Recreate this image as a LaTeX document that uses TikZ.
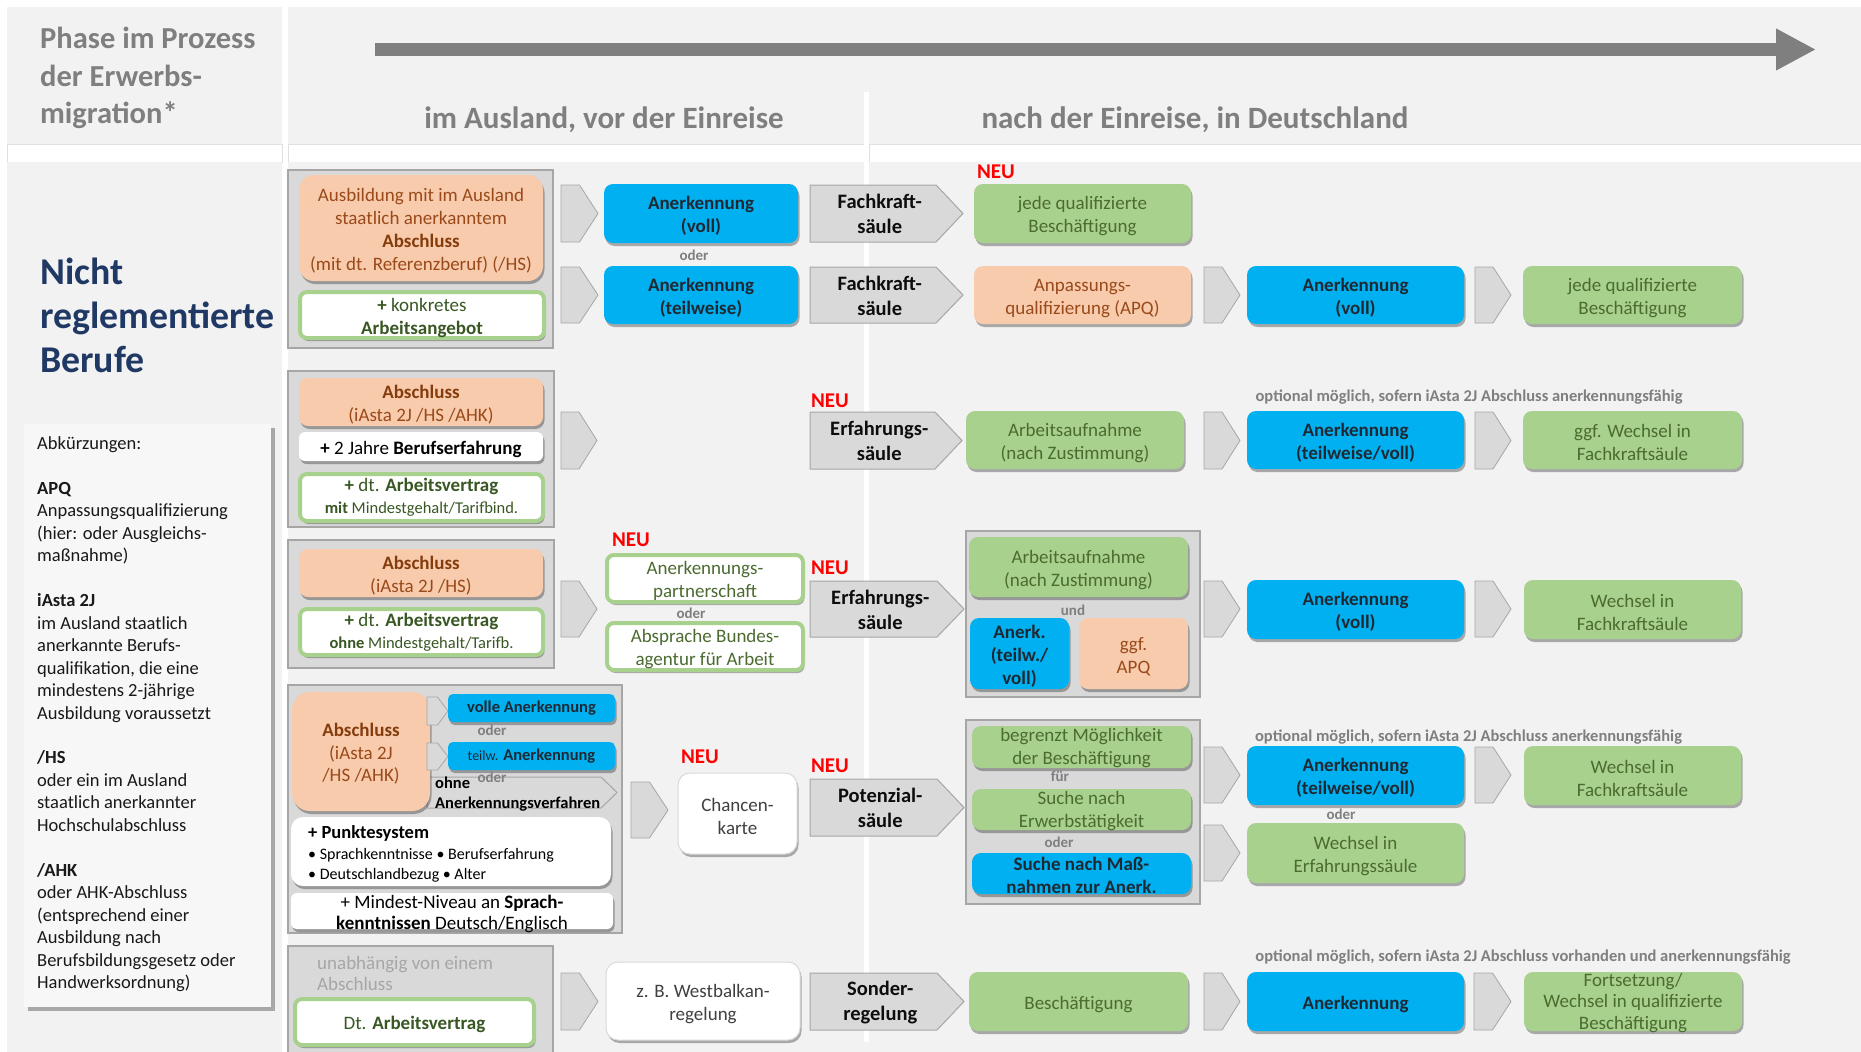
\documentclass[tikz,border=0pt]{standalone}
\usepackage{fontspec}
\setmainfont{Carlito}
\usetikzlibrary{shadows,arrows.meta}
\definecolor{cbg}{HTML}{F2F2F2}
\definecolor{cgrayfill}{HTML}{D9D9D9}
\definecolor{cgrayline}{HTML}{A6A6A6}
\definecolor{chdr}{HTML}{7F7F7F}
\definecolor{cblue}{HTML}{00B0F0}
\definecolor{cbluetxt}{HTML}{1F2933}
\definecolor{cgreen}{HTML}{A9D18E}
\definecolor{cgreentxt}{HTML}{4B6B30}
\definecolor{cgreendk}{HTML}{385723}
\definecolor{corange}{HTML}{F8CBAD}
\definecolor{corangetxt}{HTML}{9A4A1A}
\definecolor{corangedk}{HTML}{843C0C}
\definecolor{cnavy}{HTML}{1F3864}
\definecolor{cneu}{HTML}{FF0000}
\definecolor{cdark}{HTML}{404040}
\definecolor{clight}{HTML}{A6A6A6}
\newcommand\fsMain{\fontsize{19}{23}\selectfont}
\newcommand\fsSmall{\fontsize{16.5}{20}\selectfont}
\newcommand\fsPent{\fontsize{20.5}{25}\selectfont}
\newcommand\orb[1]{\textcolor{corangedk}{\textbf{#1}}}
\newcommand\tshiftcode{}
\newcommand\mkbox[7]{\node[#1,minimum width={#5-#3},minimum height={#6-#4}] (#2) at ({(#3+#5)/2},{(#4+#6)/2}) {\tshiftcode#7};}
\newcommand\mkboxT[9]{\node[#1,minimum width={#5-#3},minimum height={#6-#4}] (#2) at ({(#3+#5)/2},{(#4+#6)/2}) {};
  \node[#7] (#2-t) at ({(#3+#5)/2},{#8}) {#9};}
\newcommand\mkchev[5]{\path[chevshape] (#2,#3) -- ({(#2+#4)/2},#3) -- (#4,{(#3+#5)/2}) -- ({(#2+#4)/2},#5) -- (#2,#5) -- cycle;
  \coordinate (#1) at ({(#2+#4)/2},{(#3+#5)/2});}
\newcommand\mkpent[7]{\path[pentshape] (#2,#3) -- ({#4-#6},#3) -- (#4,{(#3+#5)/2}) -- ({#4-#6},#5) -- (#2,#5) -- cycle;
  \node[penttext] (#1) at ({(#2+#4-#6/2)/2},{(#3+#5)/2+0.8}) {#7};}
\tikzset{
  shd/.style={drop shadow={shadow xshift=1.5pt,shadow yshift=-3pt,opacity=.3,fill=black}},
  tshift/.code={\def\tshiftcode{\rule{0pt}{18.5pt}}},
  notshift/.code={\def\tshiftcode{}},
  boxbase/.style={inner sep=0pt,align=center,rounded corners=9pt,font=\fsMain},
  bluebox/.style={boxbase,fill=cblue,text=cbluetxt,font=\fsMain\bfseries,shd,tshift},
  bluesm/.style={bluebox,font=\fsSmall\bfseries,rounded corners=5pt,notshift},
  orangebox/.style={boxbase,fill=corange,text=corangetxt,shd,tshift},
  greenbox/.style={boxbase,fill=cgreen,text=cgreentxt,shd,tshift},
  gbbox/.style={boxbase,fill=white,draw=cgreen,line width=4pt,text=cgreendk,rounded corners=7pt,shd,tshift},
  whitebox/.style={boxbase,fill=white,text=black,rounded corners=6pt,shd,tshift},
  wbox/.style={boxbase,fill=white,draw=black!15,line width=1pt,text=cdark,rounded corners=12pt,shd,tshift},
  container/.style={fill=cgrayfill,draw=cgrayline,line width=1.2pt,inner sep=0pt},
  chevshape/.style={fill=cgrayfill,draw=cgrayline,line width=0.8pt},
  pentshape/.style={fill=cgrayfill,draw=cgrayline,line width=1pt},
  penttext/.style={font=\fsPent\bfseries,text=black!95,align=center,inner sep=0pt},
  neutxt/.style={font=\bfseries\fontsize{21}{24}\selectfont,text=cneu,inner sep=0pt},
  odertxt/.style={font=\bfseries\fontsize{15}{17}\selectfont,text=chdr,inner sep=0pt},
  opttxt/.style={font=\bfseries\fontsize{16.5}{19}\selectfont,text=chdr,inner sep=0pt},
  plaintxt/.style={inner sep=0pt,align=center,font=\fsMain},
  legtxt/.style={inner sep=0pt,font=\fontsize{18.5}{22}\selectfont,text=black!90},
  hdrtxt/.style={inner sep=0pt,font=\bfseries\fontsize{30.5}{37}\selectfont,text=chdr},
  titletxt/.style={inner sep=0pt,font=\bfseries\fontsize{37.8}{44}\selectfont,text=cnavy}
}
\begin{document}
\begin{tikzpicture}[x=1pt,y=-1pt]
\useasboundingbox (0,0) rectangle (1861,1052);
\fill[white] (0,0) rectangle (1861,1052);
% background panels
\fill[cbg] (7,7) rectangle (282,144);
\fill[cbg] (288,7) rectangle (1861,144);
\draw[black!12,fill=white] (7,144) rectangle (282,162);
\draw[black!12,fill=white] (288,144) rectangle (864,162);
\draw[black!12,fill=white] (869,144) rectangle (1861,162);
\fill[cbg] (7,162) rectangle (282,1052);
\fill[cbg] (288,162) rectangle (1861,1052);
\fill[white] (864,92) rectangle (869,1042);
% header
\node[hdrtxt,anchor=base west] (h1) at (40,48) {Phase im Prozess};
\node[hdrtxt,anchor=base west] (h2) at (40,86) {der Erwerbs-};
\node[hdrtxt,anchor=base west] (h3) at (40,123) {migration*};
\coordinate (arrS) at (375,49.5);
\coordinate (arrE) at (1816,49.5);
\draw[chdr,line width=13pt,-{Triangle[length=40pt,width=39pt]}] (arrS) -- (arrE);
\node[hdrtxt,anchor=base,font=\bfseries\fontsize{31}{37}\selectfont] (ph1) at (604,128) {im Ausland, vor der Einreise};
\node[hdrtxt,anchor=base,font=\bfseries\fontsize{31}{37}\selectfont] (ph2) at (1195,128) {nach der Einreise, in Deutschland};
% title
\node[titletxt,anchor=base west] (t1) at (40,284) {Nicht};
\node[titletxt,anchor=base west] (t2) at (40,328) {reglementierte};
\node[titletxt,anchor=base west] (t3) at (40,372) {Berufe};
% legend
\node[fill=cbg!60!white,inner sep=0pt,minimum width=247,minimum height=583,drop shadow={shadow xshift=4pt,shadow yshift=-4pt,opacity=.3,fill=black}] (leg) at (147.5,715.5) {};
\foreach \i/\t in {0/{Abkürzungen:},2/{\textbf{APQ}},3/{Anpassungsqualifizierung},4/{(hier: oder Ausgleichs-},5/{maßnahme)},
  7/{\textbf{iAsta 2J}},8/{im Ausland staatlich},9/{anerkannte Berufs-},10/{qualifikation, die eine},11/{mindestens 2-jährige},12/{Ausbildung voraussetzt},
  14/{\textbf{/HS}},15/{oder ein im Ausland},16/{staatlich anerkannter},17/{Hochschulabschluss},
  19/{\textbf{/AHK}},20/{oder AHK-Abschluss},21/{(entsprechend einer},22/{Ausbildung nach},23/{Berufsbildungsgesetz oder},24/{Handwerksordnung)}}
  {\node[legtxt,anchor=base west] (leg\i) at (37,{449.5+22.46*\i}) {\t};}
% ---------- row 1
\mkbox{container}{g1}{288}{170}{553}{348}{}
\mkbox{orangebox,rounded corners=15pt}{o1}{299}{175}{543}{281}{Ausbildung mit im Ausland\\staatlich anerkanntem\\\orb{Abschluss}\\(mit dt. Referenzberuf) (/HS)}
\mkbox{gbbox}{k1}{300}{292}{544}{338}{\textbf{+} konkretes\\\textbf{Arbeitsangebot}}
\mkchev{c1a}{561}{185}{598}{242}
\mkchev{c1b}{561}{267}{598}{323}
\mkbox{bluebox}{b1a}{604}{184}{798}{243}{Anerkennung\\(voll)}
\node[odertxt] (od1) at (694,255) {oder};
\mkbox{bluebox}{b1b}{604}{266}{798}{324}{Anerkennung\\(teilweise)}
\mkpent{p1a}{810}{185}{963}{242}{27}{Fachkraft-\\säule}
\mkpent{p1b}{810}{267}{963}{323}{27}{Fachkraft-\\säule}
\node[neutxt] (n1) at (996,172) {NEU};
\mkbox{greenbox}{gr1a}{974}{184}{1191}{243}{jede qualifizierte\\Beschäftigung}
\mkbox{orangebox}{o1b}{974}{266}{1191}{324}{Anpassungs-\\qualifizierung (APQ)}
\mkchev{c1c}{1204}{267}{1240}{323}
\mkbox{bluebox}{b1c}{1247}{266}{1464}{324}{Anerkennung\\(voll)}
\mkchev{c1d}{1475}{267}{1511}{323}
\mkbox{greenbox}{gr1b}{1523}{266}{1742}{324}{jede qualifizierte\\Beschäftigung}
% ---------- row 2
\mkbox{container}{g2}{288}{371}{554}{527}{}
\mkbox{orangebox}{o2}{299}{378}{543}{426}{\orb{Abschluss}\\(iAsta 2J /HS /AHK)}
\mkbox{whitebox}{w2}{299}{432}{543}{461}{\textbf{+} 2 Jahre \textbf{Berufserfahrung}}
\mkbox{gbbox,notshift,font=\fontsize{19}{22}\selectfont}{k2}{300}{474}{543}{521}{\textbf{+} dt. \textbf{Arbeitsvertrag}\\{\fontsize{16.5}{20}\selectfont\textbf{mit} Mindestgehalt/Tarifbind.}}
\mkchev{c2a}{561}{412}{597}{469}
\node[neutxt] (n2) at (830,401) {NEU};
\mkpent{p2}{810}{412}{962}{469}{27}{Erfahrungs-\\säule}
\mkbox{greenbox}{gr2a}{966}{411}{1184}{469}{Arbeitsaufnahme\\(nach Zustimmung)}
\node[opttxt] (opt1) at (1469,397) {optional möglich, sofern iAsta 2J Abschluss anerkennungsfähig};
\mkchev{c2b}{1204}{412}{1240}{469}
\mkbox{bluebox}{b2}{1247}{411}{1464}{469}{Anerkennung\\(teilweise/voll)}
\mkchev{c2c}{1475}{412}{1511}{469}
\mkbox{greenbox}{gr2b}{1523}{411}{1742}{469}{ggf. Wechsel in\\Fachkraftsäule}
% ---------- row 3
\mkbox{container}{g3}{288}{540}{554}{668}{}
\mkbox{orangebox}{o3}{299}{549}{543}{597}{\orb{Abschluss}\\(iAsta 2J /HS)}
\mkbox{gbbox,notshift,font=\fontsize{19}{22}\selectfont}{k3}{300}{609}{543}{655}{\textbf{+} dt. \textbf{Arbeitsvertrag}\\{\fontsize{16.5}{20}\selectfont\textbf{ohne} Mindestgehalt/Tarifb.}}
\mkchev{c3a}{561}{581}{597}{637}
\node[neutxt] (n3) at (631,540) {NEU};
\mkbox{gbbox,text=cgreentxt}{k3a}{607}{555}{803}{602}{Anerkennungs-\\partnerschaft}
\node[odertxt] (od3) at (691,613) {oder};
\mkbox{gbbox,text=cgreentxt}{k3b}{607}{623}{803}{670}{Absprache Bundes-\\agentur für Arbeit}
\node[neutxt] (n4) at (830,568) {NEU};
\mkpent{p3}{810}{581}{964}{637}{27}{Erfahrungs-\\säule}
\mkbox{container}{g3r}{966}{531}{1200}{697}{}
\mkbox{greenbox}{gr3a}{969}{537}{1188}{597}{Arbeitsaufnahme\\(nach Zustimmung)}
\node[odertxt] (und3) at (1073,610) {und};
\mkbox{bluebox}{b3a}{970}{618}{1069}{689}{Anerk.\\(teilw./\\voll)}
\mkbox{orangebox}{o3b}{1079}{618}{1188}{689}{ggf.\\APQ}
\mkchev{c3b}{1204}{581}{1240}{637}
\mkbox{bluebox}{b3b}{1247}{580}{1464}{639}{Anerkennung\\(voll)}
\mkchev{c3c}{1475}{581}{1511}{637}
\mkbox{greenbox}{gr3b}{1524}{580}{1741}{639}{Wechsel in\\Fachkraftsäule}
% ---------- row 4
\mkbox{container}{g4}{288}{685}{622}{933}{}
\mkpent{ohnep}{427}{777}{617}{808}{16}{}
\node[inner sep=0pt,anchor=base west,font=\fsSmall\bfseries] (ohne1) at (435,788) {ohne};
\node[inner sep=0pt,anchor=base west,font=\fsSmall\bfseries] (ohne2) at (435,808) {Anerkennungsverfahren};
\mkbox{orangebox,rounded corners=18pt,font=\fontsize{19}{22.5}\selectfont}{o4}{292}{692}{430}{811}{\orb{Abschluss}\\(iAsta 2J\\/HS /AHK)}
\mkchev{c4s1}{427}{697}{448}{725}
\mkchev{c4s2}{427}{743}{448}{770}
\mkbox{bluesm}{b4a}{448}{694}{615}{722}{volle Anerkennung}
\node[odertxt] (od4a) at (492,730) {oder};
\mkbox{bluesm}{b4b}{448}{742}{615}{770}{{\mdseries\fontsize{14}{16}\selectfont teilw.} Anerkennung}
\node[odertxt] (od4b) at (492,777) {oder};
\mkbox{whitebox,rounded corners=12pt}{w4a}{291}{817}{611}{886}{}
\node[inner sep=0pt,anchor=base west,font=\bfseries\fontsize{18.5}{22}\selectfont] (pk1) at (308,838) {+ Punktesystem};
\node[inner sep=0pt,anchor=base west,font=\fontsize{16}{19}\selectfont] (pk2) at (308,859) {• Sprachkenntnisse • Berufserfahrung};
\node[inner sep=0pt,anchor=base west,font=\fontsize{16}{19}\selectfont] (pk3) at (308,879) {• Deutschlandbezug • Alter};
\mkboxT{whitebox}{w4b}{291}{893}{613}{929}{plaintxt,font=\fontsize{19}{21}\selectfont}{913.5}{+ Mindest-Niveau an \textbf{Sprach-}\\\textbf{kenntnissen} Deutsch/Englisch}
\mkchev{c4a}{631}{782}{668}{838}
\node[neutxt] (n5) at (700,757) {NEU};
\mkbox{wbox}{w4c}{678}{773}{797}{854}{Chancen-\\karte}
\node[neutxt] (n6) at (830,766) {NEU};
\mkpent{p4}{810}{779}{964}{836}{27}{Potenzial-\\säule}
\mkbox{container}{g4r}{966}{720}{1200}{904}{}
\mkboxT{greenbox}{gr4a}{972}{726}{1191}{768}{plaintxt,text=cgreentxt}{748.5}{begrenzt Möglichkeit\\der Beschäftigung}
\node[odertxt] (fuer4) at (1060,776) {für};
\mkboxT{greenbox}{gr4b}{972}{789}{1191}{830}{plaintxt,text=cgreentxt}{811}{Suche nach\\Erwerbstätigkeit}
\node[odertxt] (od4c) at (1059,842) {oder};
\mkboxT{bluebox}{b4c}{972}{853}{1191}{894}{plaintxt,text=cbluetxt,font=\fsMain\bfseries}{875}{Suche nach Maß-\\nahmen zur Anerk.}
\mkchev{c4b}{1204}{747}{1240}{803}
\mkchev{c4c}{1204}{825}{1240}{881}
\node[opttxt] (opt2) at (1468.5,737) {optional möglich, sofern iAsta 2J Abschluss anerkennungsfähig};
\mkbox{bluebox}{b4d}{1247}{746}{1464}{805}{Anerkennung\\(teilweise/voll)}
\node[odertxt] (od4d) at (1341,814) {oder};
\mkbox{greenbox}{gr4c}{1247}{823}{1464}{883}{Wechsel in\\Erfahrungssäule}
\mkchev{c4d}{1475}{747}{1511}{803}
\mkbox{greenbox}{gr4d}{1524}{746}{1741}{805}{Wechsel in\\Fachkraftsäule}
% ---------- row 5
\mkbox{container}{g5}{288}{946}{553}{1058}{}
\node[inner sep=0pt,anchor=base west,font=\fsMain,text=clight] (ua1) at (317,969) {unabhängig von einem};
\node[inner sep=0pt,anchor=base west,font=\fsMain,text=clight] (ua2) at (317,990) {Abschluss};
\mkbox{gbbox}{k5}{295}{999}{534}{1045}{Dt. \textbf{Arbeitsvertrag}}
\mkchev{c5a}{561}{973}{598}{1030}
\mkbox{wbox}{w5}{606}{962}{800}{1040}{z. B. Westbalkan-\\regelung}
\mkpent{p5}{810}{973}{964}{1030}{27}{Sonder-\\regelung}
\mkbox{greenbox}{gr5a}{969}{972}{1188}{1031}{Beschäftigung}
\node[opttxt] (opt3) at (1523,957) {optional möglich, sofern iAsta 2J Abschluss vorhanden und anerkennungsfähig};
\mkchev{c5b}{1204}{973}{1240}{1030}
\mkbox{bluebox}{b5}{1247}{972}{1464}{1031}{Anerkennung}
\mkchev{c5c}{1474}{973}{1511}{1030}
\mkboxT{greenbox}{gr5b}{1524}{972}{1742}{1031}{plaintxt,text=cgreentxt,font=\fontsize{19}{21.5}\selectfont}{1003}{Fortsetzung/\\Wechsel in qualifizierte\\Beschäftigung}
\end{tikzpicture}
\end{document}
